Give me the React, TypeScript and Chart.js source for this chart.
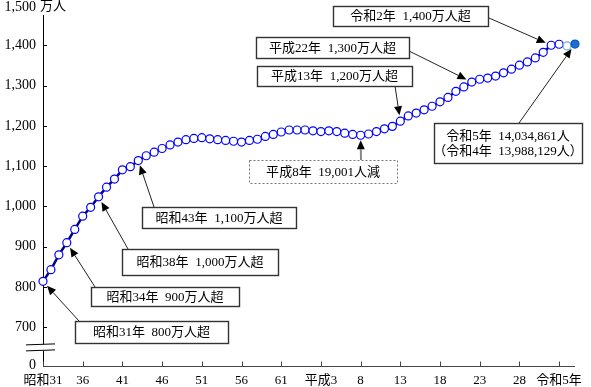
import React, { useEffect, useRef } from 'react';
import { Chart, registerables } from 'chart.js';

Chart.register(...registerables);

// ---- data (万人) ----
const years = [
  1956, 1957, 1958, 1959, 1960, 1961, 1962, 1963, 1964, 1965,
  1966, 1967, 1968, 1969, 1970, 1971, 1972, 1973, 1974, 1975,
  1976, 1977, 1978, 1979, 1980, 1981, 1982, 1983, 1984, 1985,
  1986, 1987, 1988, 1989, 1990, 1991, 1992, 1993, 1994, 1995,
  1996, 1997, 1998, 1999, 2000, 2001, 2002, 2003, 2004, 2005,
  2006, 2007, 2008, 2009, 2010, 2011, 2012, 2013, 2014, 2015,
  2016, 2017, 2018, 2019, 2020, 2021, 2022, 2023,
];
const population = [
  814, 843, 880, 910, 943, 976, 998, 1024, 1048, 1068,
  1091, 1099, 1114, 1126, 1135, 1144, 1153, 1160, 1166, 1169,
  1171, 1168, 1166, 1164, 1162, 1160, 1164, 1167, 1174, 1179,
  1185, 1190, 1190, 1190, 1188, 1186, 1188, 1186, 1182, 1179,
  1177, 1180, 1186, 1193, 1199, 1212, 1225, 1232, 1240, 1249,
  1260, 1271, 1286, 1297, 1309, 1316, 1319, 1324, 1332, 1341,
  1351, 1359, 1369, 1383, 1400.5, 1403, 1398.8, 1403.5,
];

const xTickYears = [1956, 1961, 1966, 1971, 1976, 1981, 1986, 1991, 1996, 2001, 2006, 2011, 2016, 2021];
const xTickLabels = ['昭和31', '36', '41', '46', '51', '56', '61', '平成3', '8', '13', '18', '23', '28', '令和5年'];
const yTickValues = [700, 800, 900, 1000, 1100, 1200, 1300, 1400];
const yBreakBase = 605; // shown as "0" below the axis break
const yTop = 1500;
const yTopLabel = '1,500';
const yUnit = '万人';

type Note = {
  lines: string[];
  year: number;
  box: [number, number, number, number]; // x, y, w, h
  from: [number, number];
  dashed?: boolean;
  gap: number;
};

const notes: Note[] = [
  { lines: ['令和2年  1,400万人超'], year: 2020, box: [333, 6, 155, 20], from: [489, 18], gap: 6 },
  { lines: ['平成22年  1,300万人超'], year: 2010, box: [256, 37, 153, 21], from: [409, 51], gap: 6 },
  { lines: ['平成13年  1,200万人超'], year: 2001, box: [257, 66, 155, 20], from: [395, 86], gap: 6 },
  { lines: ['令和5年  14,034,861人', '（令和4年  13,988,129人）'], year: 2023, box: [434, 123, 148, 40], from: [519, 123], gap: 6 },
  { lines: ['平成8年  19,001人減'], year: 1996, box: [249, 160, 148, 23], from: [361, 160], dashed: true, gap: 5 },
  { lines: ['昭和43年  1,100万人超'], year: 1968, box: [142, 207, 154, 21], from: [154, 207], gap: 5 },
  { lines: ['昭和38年  1,000万人超'], year: 1963, box: [122, 249, 156, 26], from: [128, 249], gap: 6 },
  { lines: ['昭和34年  900万人超'], year: 1959, box: [91, 287, 148, 19], from: [95, 287], gap: 6 },
  { lines: ['昭和31年  800万人超'], year: 1956, box: [75, 321, 153, 22], from: [79, 321], gap: 6 },
];

const FONT = "'Liberation Serif', 'Noto Sans CJK JP', serif";

function drawArrow(ctx: CanvasRenderingContext2D, x1: number, y1: number, x2: number, y2: number, color: string, lw: number) {
  const ang = Math.atan2(y2 - y1, x2 - x1);
  const hl = 9;
  const hw = 4;
  const bx = x2 - hl * Math.cos(ang);
  const by = y2 - hl * Math.sin(ang);
  ctx.save();
  ctx.strokeStyle = color;
  ctx.lineWidth = lw;
  ctx.beginPath();
  ctx.moveTo(x1, y1);
  ctx.lineTo(bx, by);
  ctx.stroke();
  ctx.fillStyle = '#000';
  ctx.beginPath();
  ctx.moveTo(x2, y2);
  ctx.lineTo(bx + hw * Math.sin(ang), by - hw * Math.cos(ang));
  ctx.lineTo(bx - hw * Math.sin(ang), by + hw * Math.cos(ang));
  ctx.closePath();
  ctx.fill();
  ctx.restore();
}

const axesPlugin = {
  id: 'customAxes',
  beforeDatasetsDraw(chart: any) {
    const ctx: CanvasRenderingContext2D = chart.ctx;
    const xs = chart.scales.x;
    const ys = chart.scales.y;
    const left = xs.left;
    const bottom = ys.bottom;
    ctx.save();
    ctx.strokeStyle = '#000';
    ctx.lineWidth = 1;
    // y axis
    ctx.beginPath();
    ctx.moveTo(left + 0.5, 15);
    ctx.lineTo(left + 0.5, bottom);
    ctx.stroke();
    // y ticks (inward)
    yTickValues.forEach((v) => {
      const y = Math.round(ys.getPixelForValue(v)) + 0.5;
      ctx.beginPath();
      ctx.moveTo(left, y);
      ctx.lineTo(left + 4, y);
      ctx.stroke();
    });
    // x axis
    ctx.strokeStyle = '#444';
    ctx.beginPath();
    ctx.moveTo(left, Math.round(bottom) + 0.5);
    ctx.lineTo(xs.right, Math.round(bottom) + 0.5);
    ctx.stroke();
    xTickYears.forEach((yr) => {
      const x = Math.round(xs.getPixelForValue(yr)) + 0.5;
      ctx.beginPath();
      ctx.moveTo(x, bottom - 4);
      ctx.lineTo(x, bottom + 1);
      ctx.stroke();
    });
    // axis break
    const yb = ys.getPixelForValue(650);
    ctx.fillStyle = '#fff';
    ctx.fillRect(26, yb - 3, 30, 6);
    ctx.strokeStyle = '#000';
    ctx.beginPath();
    ctx.moveTo(26, yb - 2.5);
    ctx.lineTo(55, yb - 3.5);
    ctx.moveTo(26, yb + 3.5);
    ctx.lineTo(55, yb + 2.5);
    ctx.stroke();
    // top label and unit
    ctx.fillStyle = '#000';
    ctx.font = `14px ${FONT}`;
    ctx.textBaseline = 'middle';
    ctx.textAlign = 'right';
    ctx.fillText(yTopLabel, left - 7, 7);
    ctx.font = `13px ${FONT}`;
    ctx.textAlign = 'left';
    ctx.fillText(yUnit, 40, 7);
    ctx.restore();
  },
  afterDatasetsDraw(chart: any) {
    const ctx: CanvasRenderingContext2D = chart.ctx;
    const xs = chart.scales.x;
    const ys = chart.scales.y;
    ctx.save();
    notes.forEach((n) => {
      const idx = years.indexOf(n.year);
      const px = xs.getPixelForValue(n.year);
      const py = ys.getPixelForValue(population[idx]);
      const dx = n.from[0] - px;
      const dy = n.from[1] - py;
      const d = Math.hypot(dx, dy);
      const tx = px + (dx / d) * n.gap;
      const ty = py + (dy / d) * n.gap;
      if (n.dashed) drawArrow(ctx, n.from[0], n.from[1], tx, ty, '#888', 2);
      else drawArrow(ctx, n.from[0], n.from[1], tx, ty, '#222', 1);

      const [bx, by, bw, bh] = n.box;
      ctx.fillStyle = '#fff';
      ctx.fillRect(bx, by, bw, bh);
      ctx.lineWidth = n.dashed ? 1 : 1.4;
      ctx.strokeStyle = n.dashed ? '#777' : '#333';
      ctx.setLineDash(n.dashed ? [2, 2] : []);
      ctx.strokeRect(bx + 0.5, by + 0.5, bw, bh);
      ctx.setLineDash([]);
      ctx.fillStyle = '#000';
      ctx.font = `13px ${FONT}`;
      ctx.textAlign = 'center';
      ctx.textBaseline = 'middle';
      const lh = 15;
      const cy = by + bh / 2 + 1;
      n.lines.forEach((t, i) => {
        ctx.fillText(t, bx + bw / 2, cy + (i - (n.lines.length - 1) / 2) * lh);
      });
    });
    ctx.restore();
  },
};

export default function App() {
  const ref = useRef<HTMLCanvasElement | null>(null);
  useEffect(() => {
    document.body.style.margin = '0';
    const canvas = ref.current;
    if (!canvas) return;
    const last = years.length - 1;
    const borderColors = years.map((_, i) => (i === last ? '#0a52b8' : i === last - 1 ? '#6aaee6' : '#0000ff'));
    const bgColors = years.map((_, i) => (i === last ? '#1a6fd6' : '#ffffff'));
    const chart = new Chart(canvas, {
      type: 'line',
      data: {
        datasets: [
          {
            data: years.map((y, i) => ({ x: y, y: population[i] })),
            borderColor: '#000080',
            borderWidth: 2.5,
            tension: 0,
            pointRadius: 4,
            pointBorderWidth: 1.2,
            pointBorderColor: borderColors,
            pointBackgroundColor: bgColors,
            clip: false as any,
          },
        ],
      },
      options: {
        animation: false,
        responsive: false,
        devicePixelRatio: 1,
        layout: { padding: { top: 4, right: 16, bottom: 0, left: 0 } },
        plugins: { legend: { display: false }, tooltip: { enabled: false } },
        scales: {
          x: {
            type: 'linear',
            min: years[0],
            max: years[years.length - 1],
            afterBuildTicks: (s: any) => {
              s.ticks = xTickYears.map((v) => ({ value: v }));
            },
            afterFit: (s: any) => {
              s.height = 21.5;
              s.paddingLeft = 0;
              s.paddingRight = 0;
            },
            ticks: {
              autoSkip: false,
              maxRotation: 0,
              minRotation: 0,
              padding: 7,
              color: '#000',
              font: { family: FONT, size: 13 },
              callback: (_v: any, i: number) => xTickLabels[i],
            },
            grid: { display: false, drawTicks: false },
            border: { display: false },
          },
          y: {
            type: 'linear',
            min: yBreakBase,
            max: yTop,
            afterBuildTicks: (s: any) => {
              s.ticks = [yBreakBase, ...yTickValues].map((v) => ({ value: v }));
            },
            afterFit: (s: any) => {
              s.width = 43;
              s.paddingTop = 0;
              s.paddingBottom = 0;
            },
            ticks: {
              padding: 7,
              color: '#000',
              font: { family: FONT, size: 14 },
              callback: (v: any) => (v === yBreakBase ? '0' : Number(v).toLocaleString('en-US')),
            },
            grid: { display: false, drawTicks: false },
            border: { display: false },
          },
        },
      },
      plugins: [axesPlugin],
    });
    return () => chart.destroy();
  }, []);
  return (
    <div style={{ width: 591, height: 387 }}>
      <canvas ref={ref} width={591} height={387} style={{ display: 'block' }} />
    </div>
  );
}
